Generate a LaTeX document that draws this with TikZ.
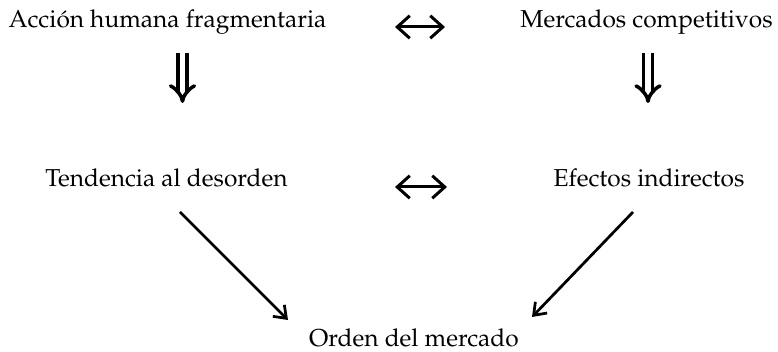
\documentclass[tikz,border=0pt]{standalone}
\usepackage[T1]{fontenc}
\usepackage{mathpazo}
\usetikzlibrary{arrows.meta,calc}

\begin{document}
\begin{tikzpicture}[x=0.4pt,y=0.4pt,
  concepto/.style={inner sep=0pt,anchor=base,font=\fontsize{9.8}{11}\selectfont},
  doble/.style={line width=1.4pt,double distance=2.2pt,-{Implies}},
  mutuo/.style={line width=1.2pt,{Straight Barb[length=5pt,width=9pt]}-{Straight Barb[length=5pt,width=9pt]}},
  lleva/.style={line width=1.1pt,-{Straight Barb[length=4.4pt,width=6.5pt]}}]
  \useasboundingbox (0,0) rectangle (778,352);

  % --- conceptos ---
  \node[concepto] (accion) at (167.5,324) {Acción humana fragmentaria};
  \node[concepto] (mercados) at (646.5,324) {Mercados competitivos};
  \node[concepto] (tendencia) at (166.5,165) {Tendencia al desorden};
  \node[concepto] (efectos) at (649,165) {Efectos indirectos};
  \node[concepto] (orden) at (414,5) {Orden del mercado};

  % --- relaciones mutuas ---
  \draw[mutuo] ($(accion.base)+(227.5,1)$) -- ($(mercados.base)+(-201.5,1)$);
  \draw[mutuo] ($(tendencia.base)+(228.5,0)$) -- ($(efectos.base)+(-202,0)$);

  % --- implicaciones ---
  \draw[doble] ($(accion.base)+(15,-25)$) -- ($(accion.base)+(15,-75)$);
  \draw[doble] ($(mercados.base)+(1.5,-25)$) -- ($(mercados.base)+(1.5,-75)$);

  % --- hacia el orden ---
  \draw[lleva] ($(tendencia.base)+(13.5,-25)$) -- ($(orden.base)+(-126,27)$);
  \draw[lleva] ($(efectos.base)+(-16,-25)$) -- ($(orden.base)+(118,30)$);
\end{tikzpicture}
\end{document}
